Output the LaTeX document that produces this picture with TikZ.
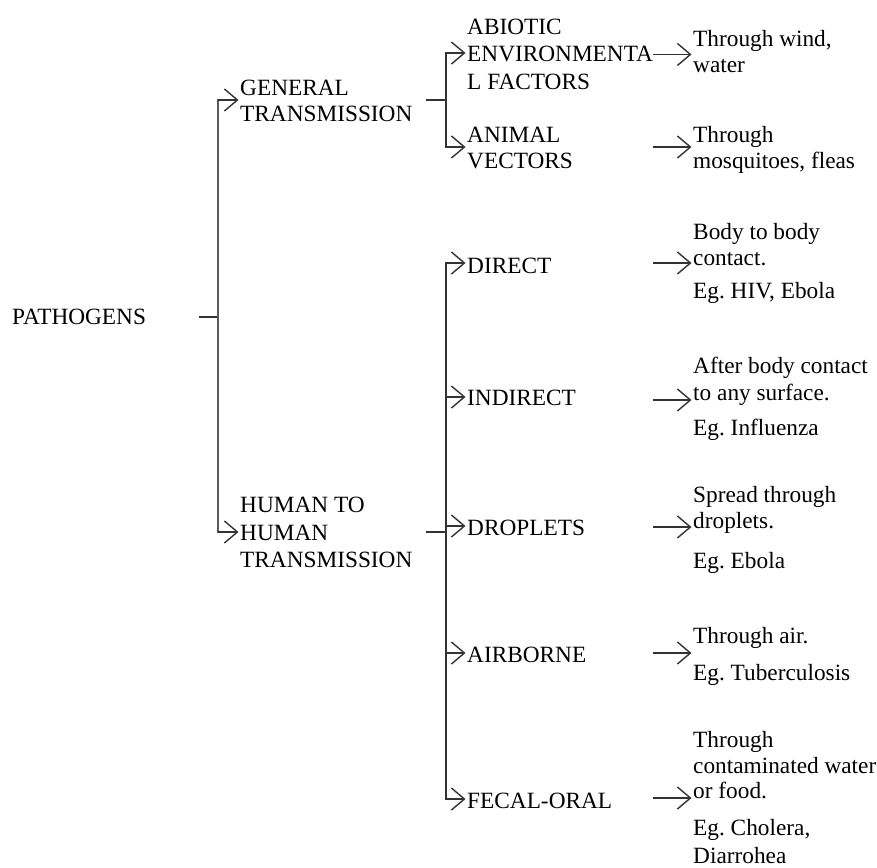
\documentclass[tikz,border=0pt]{standalone}
\usepackage{fontspec}
\setmainfont{Liberation Serif}
\usetikzlibrary{arrows.meta}
\frenchspacing
\begin{document}
\frenchspacing
\begin{tikzpicture}[x=1pt,y=-1pt,
  txt/.style={anchor=base west, inner sep=0pt, font=\fontsize{23.3}{26}\selectfont},
  ln/.style={line width=1.4pt, draw=black!80, line cap=rect},
  arr/.style={line width=1.4pt, draw=black!80, shorten >=1.5pt, -{Straight Barb[length=13pt,width=22pt]}},
]
\useasboundingbox (0,0) rectangle (877,867);

% left column
\node[txt] (pat) at (12,324) {PATHOGENS};
\node[txt] (gen1) at (240,95) {GENERAL};
\node[txt] (gen2) at (240,121) {TRANSMISSION};
\node[txt] (hum1) at (240,512) {HUMAN TO};
\node[txt] (hum2) at (240,540) {HUMAN};
\node[txt] (hum3) at (240,567) {TRANSMISSION};

% middle column
\node[txt] (abi1) at (467,35) {ABIOTIC};
\node[txt] (abi2) at (467,62) {ENVIRONMENTA};
\node[txt] (abi3) at (467,89) {L FACTORS};
\node[txt] (ani1) at (467,142) {ANIMAL};
\node[txt] (ani2) at (467,168) {VECTORS};
\node[txt] (dir) at (467,273) {DIRECT};
\node[txt] (ind) at (467,405) {INDIRECT};
\node[txt] (dro) at (467,535) {DROPLETS};
\node[txt] (air) at (467,662) {AIRBORNE};
\node[txt] (fec) at (467,808) {FECAL-ORAL};

% right column
\node[txt] (w1) at (693,46) {Through wind,};
\node[txt] (w2) at (693,72) {water};
\node[txt] (m1) at (693,142) {Through};
\node[txt] (m2) at (693,168) {mosquitoes, fleas};
\node[txt] (d1) at (693,239) {Body to body};
\node[txt] (d2) at (693,265) {contact.};
\node[txt] (d3) at (693,298) {Eg. HIV, Ebola};
\node[txt] (i1) at (693,373) {After body contact};
\node[txt] (i2) at (693,400) {to any surface.};
\node[txt] (i3) at (693,435) {Eg. Influenza};
\node[txt] (s1) at (693,502) {Spread through};
\node[txt] (s2) at (693,528) {droplets.};
\node[txt] (s3) at (693,568) {Eg. Ebola};
\node[txt] (a1) at (693,643) {Through air.};
\node[txt] (a2) at (693,680) {Eg. Tuberculosis};
\node[txt] (f1) at (693,747) {Through};
\node[txt] (f2) at (693,773) {contaminated water};
\node[txt] (f3) at (693,798) {or food.};
\node[txt] (f4) at (693,835) {Eg. Cholera,};
\node[txt] (f5) at (693,863) {Diarrohea};

% coordinates
\coordinate (ps) at (200,317);
\coordinate (pv1) at (218,100);
\coordinate (pv2) at (218,532);
\coordinate (gs) at (427,100);
\coordinate (gv1) at (446,53);
\coordinate (gv2) at (446,147);
\coordinate (hs) at (427,532);
\coordinate (hv1) at (446,263);
\coordinate (hv2) at (446,397);
\coordinate (hv3) at (446,526);
\coordinate (hv4) at (446,653);
\coordinate (hv5) at (446,799);
\coordinate (rt2) at (653,147);
\coordinate (rt3) at (653,263);
\coordinate (rt4) at (653,400);
\coordinate (rt5) at (653,527);
\coordinate (rt6) at (653,653);
\coordinate (rt7) at (653,798);

% PATHOGENS bracket
\draw[ln] (ps) -- (ps -| pv1);
\draw[ln, draw=black!65] (pv1) -- (pv2);
\draw[arr] (pv1) -- (pv1 -| gen1.west);
\draw[arr] (pv2) -- (pv2 -| hum2.west);

% GENERAL bracket
\draw[ln] (gs) -- (gs -| gv1);
\draw[ln] (gv1) -- (gv2);
\draw[arr] (gv1) -- (gv1 -| abi2.west);
\draw[arr] (gv2) -- (gv2 -| ani1.west);

% HUMAN bracket
\draw[ln] (hs) -- (hs -| hv1);
\draw[ln] (hv1) -- (hv5);
\draw[arr] (hv1) -- (hv1 -| dir.west);
\draw[arr] (hv2) -- (hv2 -| ind.west);
\draw[arr] (hv3) -- (hv3 -| dro.west);
\draw[arr] (hv4) -- (hv4 -| air.west);
\draw[arr] (hv5) -- (hv5 -| fec.west);

% right arrows
\draw[arr] (abi2.east) -- (abi2.east -| w1.west);
\draw[arr] (rt2) -- (rt2 -| m1.west);
\draw[arr] (rt3) -- (rt3 -| d2.west);
\draw[arr] (rt4) -- (rt4 -| i2.west);
\draw[arr] (rt5) -- (rt5 -| s2.west);
\draw[arr] (rt6) -- (rt6 -| a1.west);
\draw[arr] (rt7) -- (rt7 -| f3.west);
\end{tikzpicture}
\end{document}
